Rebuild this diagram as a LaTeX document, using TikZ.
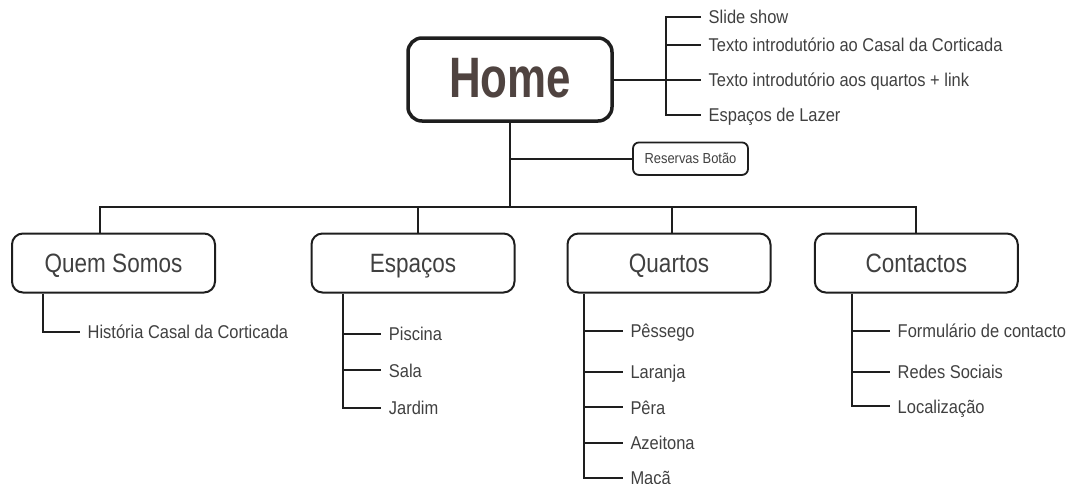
\documentclass[tikz,border=0pt]{standalone}
\usepackage{fontspec}
\setmainfont{Liberation Sans}[FakeStretch=0.85]
\newfontfamily\itemfont{Liberation Sans}[FakeStretch=0.89]
\newfontfamily\homefont{Liberation Sans}[FakeStretch=0.77]
\definecolor{txt}{HTML}{404040}
\definecolor{hometxt}{HTML}{4F4340}
\definecolor{ln}{HTML}{1E1E1E}
\begin{document}
\begin{tikzpicture}[x=1pt,y=-1pt,
  homebox/.style={draw=ln, line width=3.5pt, rounded corners=14pt, minimum width=204pt, minimum height=83pt, inner sep=0pt,
    font=\homefont\bfseries\fontsize{57}{60}\selectfont, text=hometxt, text height=41pt, text depth=6pt},
  secbox/.style={draw=ln, line width=2pt, rounded corners=11pt, minimum width=203pt, minimum height=59pt, inner sep=0pt,
    font=\fontsize{26.5}{28}\selectfont, text=txt, text height=19pt, text depth=0pt},
  btnbox/.style={draw=ln, line width=1.8pt, rounded corners=6pt, minimum width=115pt, minimum height=32.5pt, inner sep=0pt,
    font=\itemfont\fontsize{14.5}{16}\selectfont, text=txt, text height=10.5pt, text depth=0pt},
  item/.style={anchor=west, inner xsep=7.5pt, inner ysep=0pt, text height=13.2pt, text depth=0pt,
    font=\itemfont\fontsize{18.5}{20}\selectfont, text=txt},
  conn/.style={draw=ln, line width=2pt}]
\useasboundingbox (0,0) rectangle (1070,483);

% main nodes
\node[homebox] (home) at (510,79.5) {Home};
\node[btnbox] (res) at (690.5,158.7) {Reservas Botão};
\node[secbox] (qs) at (113.5,263) {Quem Somos};
\node[secbox] (es) at (413,263) {Espaços};
\node[secbox] (qu) at (669,263) {Quartos};
\node[secbox] (ct) at (916.3,263) {Contactos};

% home list
\node[item] (slide) at (701,17.3) {Slide show};
\node[item] (casal) at (701,45) {Texto introdutório ao Casal da Corticada};
\node[item] (qlink) at (701,79.5) {Texto introdutório aos quartos + link};
\node[item] (lazer) at (701,115) {Espaços de Lazer};

% section items
\node[item] (hist) at (80,332.2) {História Casal da Corticada};
\node[item] (pisc) at (381.2,334) {Piscina};
\node[item] (sala) at (381.2,370.4) {Sala};
\node[item] (jard) at (381.2,407.6) {Jardim};
\node[item] (pess) at (622.8,331) {Pêssego};
\node[item] (lara) at (622.8,371.5) {Laranja};
\node[item] (pera) at (622.8,407.4) {Pêra};
\node[item] (azei) at (622.8,443) {Azeitona};
\node[item] (maca) at (622.8,477.5) {Maçã};
\node[item] (form) at (890,331) {Formulário de contacto};
\node[item] (rede) at (890,371.5) {Redes Sociais};
\node[item] (loca) at (890,406.4) {Localização};

% helper coordinates
\coordinate (brk) at (666,0);
\coordinate (qsx) at (100,206.5);
\coordinate (esx) at (418.4,206.5);
\coordinate (qux) at (671.8,206.5);
\coordinate (ctx) at (916,206.5);
\coordinate (qsv) at (43,0);
\coordinate (esv) at (342.6,0);
\coordinate (quv) at (584,0);
\coordinate (ctv) at (851.7,0);

% home connectors
\draw[conn] (home.east) -- (qlink.west);
\draw[conn] (slide.west) -- (slide.west -| brk) -- (lazer.west -| brk) -- (lazer.west);
\draw[conn] (casal.west -| brk) -- (casal.west);
\draw[conn] (home.south) -- (home.south |- qsx);
\draw[conn] (home.south |- res.west) -- (res.west);

% bus
\draw[conn] (qsx |- qs.north) -- (qsx) -- (ctx) -- (ctx |- ct.north);
\draw[conn] (esx) -- (esx |- es.north);
\draw[conn] (qux) -- (qux |- qu.north);

% section lists
\draw[conn] (qsv |- qs.south) |- (hist.west);

\draw[conn] (esv |- es.south) |- (jard.west);
\draw[conn] (esv |- pisc.west) -- (pisc.west);
\draw[conn] (esv |- sala.west) -- (sala.west);

\draw[conn] (quv |- qu.south) |- (maca.west);
\draw[conn] (quv |- pess.west) -- (pess.west);
\draw[conn] (quv |- lara.west) -- (lara.west);
\draw[conn] (quv |- pera.west) -- (pera.west);
\draw[conn] (quv |- azei.west) -- (azei.west);

\draw[conn] (ctv |- ct.south) |- (loca.west);
\draw[conn] (ctv |- form.west) -- (form.west);
\draw[conn] (ctv |- rede.west) -- (rede.west);
\end{tikzpicture}
\end{document}
